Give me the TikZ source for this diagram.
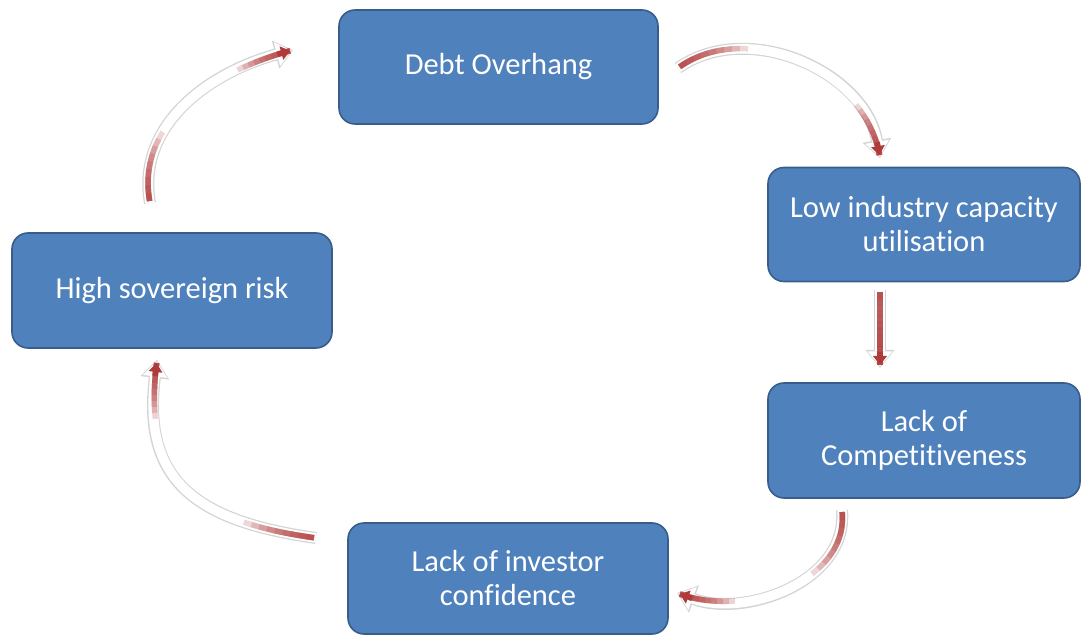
\documentclass[tikz,border=0pt]{standalone}
\usepackage{fontspec}
\setmainfont[Ligatures=NoCommon]{Carlito}
\usetikzlibrary{arrows.meta}
\definecolor{boxblue}{HTML}{4F81BD}
\definecolor{boxline}{HTML}{385D8A}
\definecolor{stripered}{HTML}{B03A3A}
\tikzstyle{cyclebox} = [draw=boxline, fill=boxblue, line width=1.6pt,
    rounded corners=16pt, text=white, align=center, inner sep=0pt,
    font=\fontsize{30.5}{34}\selectfont]
\tikzstyle{cycArrow} = [line width=12pt, draw=black!17,
    -{Triangle[length=18pt,width=29pt,line width=0pt]},
    postaction={draw, white, line width=9.5pt, shorten >=1.5pt,
    -{Triangle[length=15pt,width=24.5pt,line width=0pt]}}]
\tikzstyle{redStripe} = [stripered, line width=5.5pt]
% white block arrow with a red stripe fading in from both ends
% #1 from, #2 to, #3 out, #4 in, #5 looseness
\newcommand{\loopArrow}[5]{
    \draw[cycArrow] (#1) to[out=#3,in=#4,looseness=#5] (#2);
    \foreach \len in {8,16,...,72}{
        \draw[redStripe, opacity=0.2, shorten <=2pt, dash pattern=on \len pt off 2000pt]
            (#1) to[out=#3,in=#4,looseness=#5] (#2);
    }
    \foreach \len in {8,14,...,56}{
        \draw[redStripe, opacity=0.22, shorten <=3pt, dash pattern=on \len pt off 2000pt]
            (#2) to[out=#4,in=#3,looseness=#5] (#1);
    }
    \draw[redStripe, shorten <=3pt, {Triangle[length=9pt,width=14pt,line width=0pt]}-,
        dash pattern=on 4pt off 2000pt] (#2) to[out=#4,in=#3,looseness=#5] (#1);
}

\begin{document}
\begin{tikzpicture}[x=1pt,y=1pt]
\useasboundingbox (0,0) rectangle (1081,635);

\node[cyclebox, minimum width=319pt, minimum height=114pt] (debt) at (498.5,568) {Debt Overhang};
\node[cyclebox, minimum width=312pt, minimum height=114pt] (lowcap) at (924,410.5) {Low industry capacity\\utilisation};
\node[cyclebox, minimum width=312pt, minimum height=115pt] (compet) at (924,194.5) {Lack of\\Competitiveness};
\node[cyclebox, minimum width=320pt, minimum height=111pt] (investor) at (508,56.5) {Lack of investor\\confidence};
\node[cyclebox, minimum width=320pt, minimum height=115pt] (sovereign) at (172,344.5) {High sovereign risk};

% arrow ends
\coordinate (a1) at (678,567);
\coordinate (b1) at (880,477);
\coordinate (a2) at (880,345);
\coordinate (b2) at (880,267);
\coordinate (a3) at (842,125);
\coordinate (b3) at (677,42);
\coordinate (a4) at (316,97);
\coordinate (b4) at (157,275);
\coordinate (a5) at (150,432);
\coordinate (b5) at (293,585);

\loopArrow{a1}{b1}{35}{100}{1}
\loopArrow{a2}{b2}{-90}{90}{1}
\loopArrow{a3}{b3}{-85}{-20}{1}
\loopArrow{a4}{b4}{172}{-97}{1.3}
\loopArrow{a5}{b5}{100}{195}{1}
\end{tikzpicture}
\end{document}
